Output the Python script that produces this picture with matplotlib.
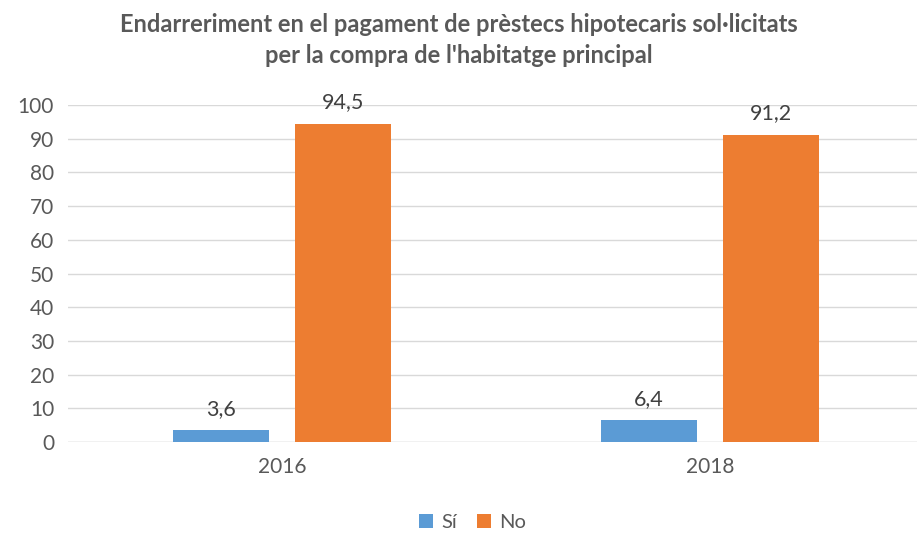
import numpy as np
import matplotlib
matplotlib.use('Agg')
import matplotlib.pyplot as plt

# data
years = ['2016', '2018']
si_vals = [3.6, 6.4]
no_vals = [94.5, 91.2]
series_names = ['Sí', 'No']

blue = '#5b9bd5'
orange = '#ed7d31'
txt = '#595959'

plt.rcParams['font.family'] = ['Lato', 'DejaVu Sans']

fig = plt.figure(figsize=(9.17, 5.33), dpi=100)
ax = fig.add_axes([68/917, 91/533, 856/917, 337/533])

x = np.arange(len(years))
w = 0.224
off = 0.1425
b1 = ax.bar(x - off, si_vals, w, color=blue, label=series_names[0], zorder=3)
b2 = ax.bar(x + off, no_vals, w, color=orange, label=series_names[1], zorder=3)

# value labels, comma decimal
for bars, vals in [(b1, si_vals), (b2, no_vals)]:
    for r, v in zip(bars, vals):
        ax.text(r.get_x() + r.get_width()/2, v + 3.3, f'{v:.1f}'.replace('.', ','),
                ha='center', va='bottom', fontsize=15.5, color='#404040')

ax.set_xlim(-0.5, 1.5)
ax.set_ylim(0, 100)
ax.set_yticks(np.arange(0, 101, 10))
ax.set_xticks(x)
ax.set_xticklabels(years)
ax.tick_params(length=0, labelsize=15, colors=txt)
ax.tick_params(axis='x', pad=11)
ax.tick_params(axis='y', pad=10)
ax.yaxis.grid(True, color='#d9d9d9', lw=1)
for s in ax.spines.values():
    s.set_visible(False)
ax.axhline(0, color='#d9d9d9', lw=1, zorder=2)

fig.text(0.5, 0.975, "Endarreriment en el pagament de prèstecs hipotecaris sol·licitats\nper la compra de l'habitatge principal",
         ha='center', va='top', fontsize=17, fontweight='bold', color=txt, linespacing=1.4)

fig.legend(handles=[b1, b2], loc='center', bbox_to_anchor=(0.515, 0.02), ncol=2,
           frameon=False, fontsize=14.5, labelcolor=txt, handlelength=0.7, handleheight=0.7,
           handletextpad=0.4, columnspacing=1.0)

fig.savefig('out.png', dpi=100)
